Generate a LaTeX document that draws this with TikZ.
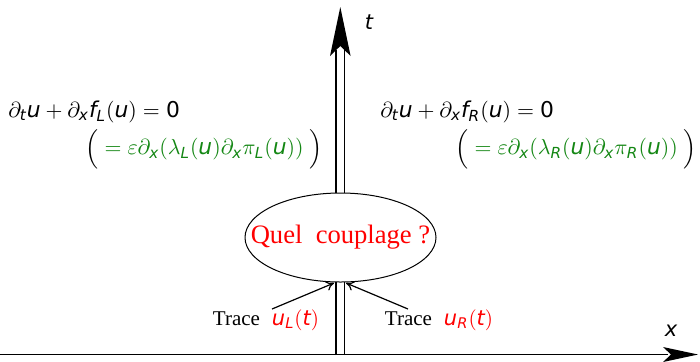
\RequirePackage{fix-cm}
\documentclass[tikz,border=0pt]{standalone}
\usepackage{amsmath}
\usepackage{fontspec}
\setmainfont{Liberation Serif}
\newfontfamily\dvs{DejaVu Sans}
\usetikzlibrary{shapes.geometric,arrows.meta}
\newcommand\sv[1]{\text{\dvs\itshape #1}}
\newcommand\sz[1]{\text{\dvs #1}}
\definecolor{eqgreen}{RGB}{20,135,20}
\begin{document}
\begin{tikzpicture}[x=0.5pt,y=-0.5pt,
  eq/.style={anchor=west,inner sep=0pt,font=\fontsize{10.9}{12}\selectfont},
  axisline/.style={line width=0.6pt},
  trace/.style={inner sep=0pt,font=\fontsize{10.5}{12}\selectfont},
  conn/.style={line width=0.6pt,-{To[length=4pt,width=5pt]}},
  lbl/.style={inner sep=0pt,font=\fontsize{10.5}{12}\selectfont}]
\useasboundingbox (0,0) rectangle (700,361);
% horizontal axis
\draw[axisline] (0,354.5) -- (668,354.5);
\fill (698,354.5) -- (663,347) -- (671,354.5) -- (663,362) -- cycle;
% vertical double axis
\draw[axisline] (336,355) -- (336,50);
\draw[axisline] (344.6,355) -- (344.6,50);
\fill (340.3,7) -- (330,56) -- (340.3,46) -- (350.6,56) -- cycle;
% labels
\node[lbl] (tl) at (369,22) {$\sv{t}$};
\node[lbl] (xl) at (671,331) {$\sv{x}$};
% ellipse
\node[ellipse,draw,line width=0.5pt,fill=white,minimum width=95.5pt,minimum height=44.5pt,inner sep=0pt] (cp) at (340.5,237.5) {};
\node[inner sep=0pt,text=red,font=\fontsize{13.3}{15}\selectfont] (cpt) at (cp.center) {Quel\ \ couplage ?};
% equations left
\node[eq] (eqL1) at (8,112) {$\partial_{\sv{t}}\sv{u}+\partial_{\sv{x}}\sv{f}_{\sv{L}}(\sv{u})=\sz{0}$};
\node[eq] (eqL2) at (85,149.5) {$\Big(\;\textcolor{eqgreen}{=\varepsilon\partial_{\sv{x}}(\lambda_{\sv{L}}(\sv{u})\partial_{\sv{x}}\pi_{\sv{L}}(\sv{u}))}\;\Big)$};
% equations right
\node[eq] (eqR1) at (380,112) {$\partial_{\sv{t}}\sv{u}+\partial_{\sv{x}}\sv{f}_{\sv{R}}(\sv{u})=\sz{0}$};
\node[eq] (eqR2) at (455,149.5) {$\Big(\;\textcolor{eqgreen}{=\varepsilon\partial_{\sv{x}}(\lambda_{\sv{R}}(\sv{u})\partial_{\sv{x}}\pi_{\sv{R}}(\sv{u}))}\;\Big)$};
% traces
\node[trace] (trL) at (266,320) {Trace\hspace{6pt}\textcolor{red}{$\sv{u}_{\sv{L}}(\sv{t})$}};
\node[trace] (trR) at (439,320) {Trace\hspace{6pt}\textcolor{red}{$\sv{u}_{\sv{R}}(\sv{t})$}};
\coordinate (aL) at (272,309);
\coordinate (eL) at (334,283);
\coordinate (aR) at (408,309);
\coordinate (eR) at (346,283);
\draw[conn] (aL) -- (eL);
\draw[conn] (aR) -- (eR);
\end{tikzpicture}
\end{document}
